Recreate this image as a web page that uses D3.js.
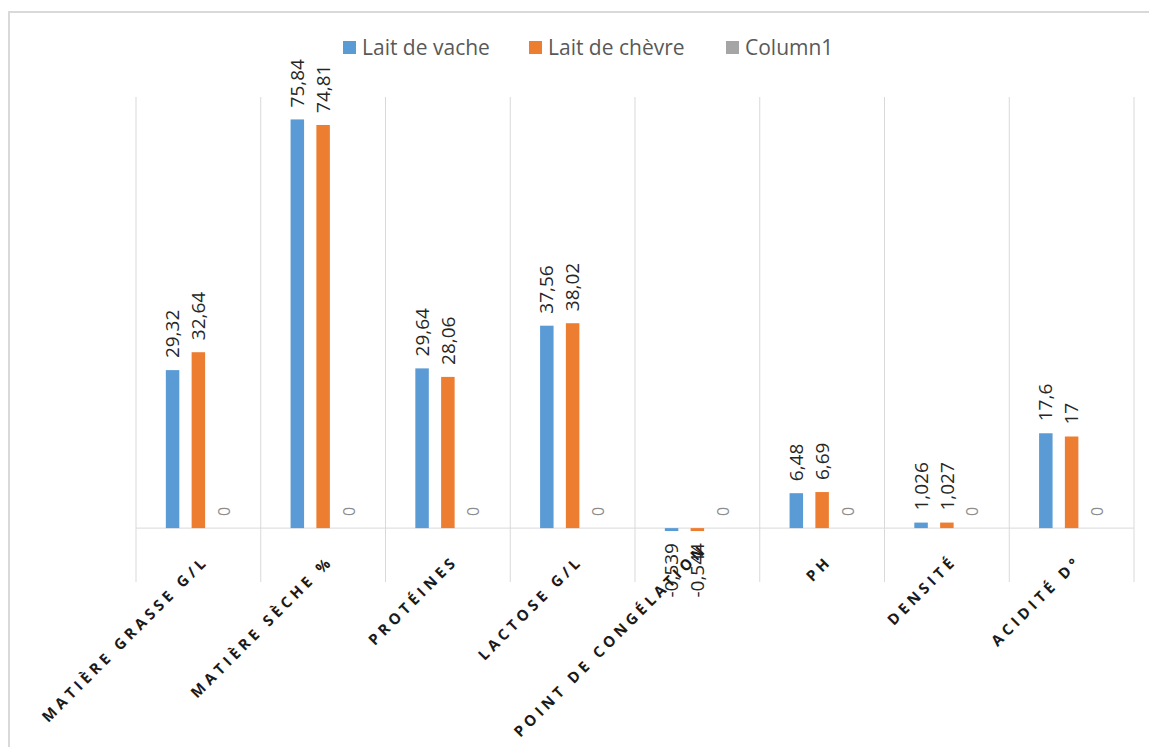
<!DOCTYPE html>
<meta charset="utf-8">
<style>
  body { margin: 0; background: #fff; }
  text { font-family: "Open Sans", sans-serif; }
  .grid line { stroke: #d9d9d9; stroke-width: 1; }
  .lbl { fill: #262626; font-size: 19px; }
  .xlbl { fill: #1a1a1a; font-size: 15px; font-weight: bold; letter-spacing: 4.1px; }
  .legend text { fill: #595959; font-size: 21px; }
</style>
<svg width="1149" height="747"></svg>
<script src="https://cdn.jsdelivr.net/npm/d3@7/dist/d3.min.js"></script>
<script>
  var categories = ["MATIÈRE GRASSE G/L", "MATIÈRE SÈCHE %", "PROTÉINES", "LACTOSE G/L",
    "POINT DE CONGÉLATION", "PH", "DENSITÉ", "ACIDITÉ D°"];
  var seriesNames = ["Lait de vache", "Lait de chèvre", "Column1"];
  var vache = [29.32, 75.84, 29.64, 37.56, -0.539, 6.48, 1.026, 17.6];
  var chevre = [32.64, 74.81, 28.06, 38.02, -0.544, 6.69, 1.027, 17];
  var column1 = [0, 0, 0, 0, 0, 0, 0, 0];
  var colors = ["#5b9bd5", "#ed7d31", "#a5a5a5"];

  var series = [vache, chevre, column1];
  var fmt = function(v) { return String(v).replace(".", ","); };

  var svg = d3.select("svg");

  // chart frame
  svg.append("rect")
    .attr("x", 9).attr("y", 12)
    .attr("width", 1300).attr("height", 900)
    .attr("fill", "none").attr("stroke", "#d9d9d9").attr("stroke-width", 2);

  var x = d3.scaleBand().domain(d3.range(categories.length)).range([136, 1134]);
  var x1 = d3.scaleBand().domain(d3.range(series.length)).range([0, x.bandwidth()])
    .paddingInner(0.477).paddingOuter(1.156);
  var y = d3.scaleLinear().domain([-10, 80]).range([582, 97]);

  var grid = svg.append("g").attr("class", "grid");
  grid.selectAll("line.v")
    .data(d3.range(categories.length + 1))
    .join("line")
    .attr("class", "v")
    .attr("x1", function(i) { return i < categories.length ? x(i) : x.range()[1]; })
    .attr("x2", function(i) { return i < categories.length ? x(i) : x.range()[1]; })
    .attr("y1", y(80)).attr("y2", y(-10));
  grid.append("line")
    .attr("x1", x.range()[0]).attr("x2", x.range()[1])
    .attr("y1", y(0)).attr("y2", y(0));

  // category labels, pushed up when they would run past the bottom edge
  var xl = svg.append("g").selectAll("text")
    .data(categories)
    .join("text")
    .attr("class", "xlbl")
    .attr("text-anchor", "end")
    .text(function(d) { return d; });
  xl.attr("transform", function(d, i) {
    var len = this.getComputedTextLength();
    var ty = 562;
    var bottom = ty + len * Math.SQRT1_2;
    if (bottom > 738) ty -= bottom - 738;
    return "translate(" + (x(i) + x.bandwidth() / 2 + 11) + "," + ty + ") rotate(-45)";
  });

  series.forEach(function(vals, s) {
    var g = svg.append("g");
    g.selectAll("rect")
      .data(vals)
      .join("rect")
      .attr("x", function(d, i) { return x(i) + x1(s); })
      .attr("width", x1.bandwidth())
      .attr("y", function(d) { return y(Math.max(0, d)); })
      .attr("height", function(d) { return Math.abs(y(d) - y(0)); })
      .attr("fill", colors[s]);

    g.selectAll("text")
      .data(vals)
      .join("text")
      .attr("class", "lbl")
      .attr("transform", function(d, i) {
        var cx = x(i) + x1(s) + x1.bandwidth() / 2;
        var yy = d >= 0 ? y(d) - 12 : y(d) + 12;
        return "translate(" + cx + "," + yy + ") rotate(-90)";
      })
      .attr("dy", "0.35em")
      .attr("text-anchor", function(d) { return d >= 0 ? "start" : "end"; })
      .style("fill", s === 2 ? "#8c8c8c" : null)
      .style("font-size", s === 2 ? "16px" : null)
      .text(function(d) { return fmt(d); });
  });

  // legend
  var legendX = [343, 529, 726];
  var legend = svg.append("g").attr("class", "legend");
  seriesNames.forEach(function(name, s) {
    legend.append("rect")
      .attr("x", legendX[s]).attr("y", 41)
      .attr("width", 13).attr("height", 13)
      .attr("fill", colors[s]);
    legend.append("text")
      .attr("x", legendX[s] + 19).attr("y", 48)
      .attr("dy", "0.35em")
      .text(name);
  });
</script>
